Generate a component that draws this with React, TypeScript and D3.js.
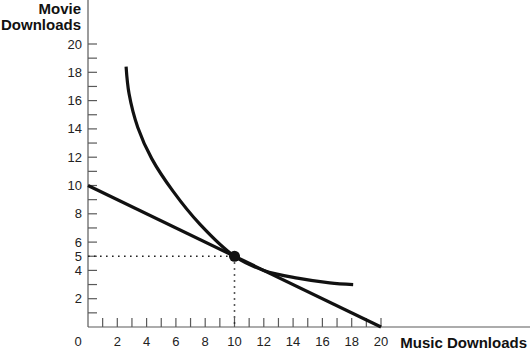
import * as d3 from 'd3';

// Axis values
const xTicks = d3.range(1, 21);
const xLabels = [0, 2, 4, 6, 8, 10, 12, 14, 16, 18, 20];
const yTicks = d3.range(1, 21);
const yLabels = [2, 4, 5, 6, 8, 10, 12, 14, 16, 18, 20];

// Budget line (music, movies)
const budgetLine: [number, number][] = [
  [0, 10],
  [20, 0],
];

// Indifference curve
const indifference: [number, number][] = [
  [2.6, 18.4],
  [2.8, 16.5],
  [3.4, 14.1],
  [4.35, 11.9],
  [5.8, 9.6],
  [7.65, 7.25],
  [10, 5],
  [12, 4.0],
  [14.3, 3.45],
  [16.5, 3.12],
  [18.1, 3.0],
];

const optimum: [number, number] = [10, 5];

const W = 530;
const H = 351;
const FONT = '"Liberation Sans", Arial, Helvetica, sans-serif';
const AXIS = '#5a5a5a';

export default function App() {
  const x = d3.scaleLinear().domain([0, 20]).range([88, 381]);
  const y = d3.scaleLinear().domain([0, 20]).range([327, 44]);

  const line = d3
    .line<[number, number]>()
    .x((d) => x(d[0]))
    .y((d) => y(d[1]));
  const curve = d3
    .line<[number, number]>()
    .x((d) => x(d[0]))
    .y((d) => y(d[1]))
    .curve(d3.curveCatmullRom.alpha(0.5));

  const x0 = x(0);
  const y0 = y(0);

  return (
    <svg
      width={W}
      height={H}
      style={{ position: 'absolute', left: 0, top: 0, background: '#fff' }}
      fontFamily={FONT}
    >
      {/* axes */}
      <line x1={x0} y1={0} x2={x0} y2={y0} stroke={AXIS} strokeWidth={1.2} />
      <line x1={x0} y1={y0} x2={W} y2={y0} stroke={AXIS} strokeWidth={1.2} />

      {/* y ticks point inward */}
      {yTicks.map((t) => (
        <line key={'yt' + t} x1={x0} x2={x0 + 9} y1={y(t)} y2={y(t)} stroke={AXIS} strokeWidth={1.2} />
      ))}
      {/* x ticks point up */}
      {xTicks.map((t) => (
        <line key={'xt' + t} x1={x(t)} x2={x(t)} y1={y0} y2={y0 - 9} stroke={AXIS} strokeWidth={1.2} />
      ))}

      {yLabels.map((t) => (
        <text key={'yl' + t} x={82} y={y(t)} dy="0.35em" textAnchor="end" fontSize={13} fill="#222">
          {t}
        </text>
      ))}
      {xLabels.map((t) => (
        <text
          key={'xl' + t}
          x={t === 0 ? x(t) - 10 : x(t)}
          y={346}
          textAnchor="middle"
          fontSize={13}
          fill="#222"
        >
          {t}
        </text>
      ))}

      {/* axis titles */}
      <text x={81} y={14} textAnchor="end" fontSize={15} fontWeight="bold" fill="#111">
        Movie
      </text>
      <text x={81} y={30} textAnchor="end" fontSize={15} fontWeight="bold" fill="#111">
        Downloads
      </text>
      <text x={527} y={348} textAnchor="end" fontSize={15} fontWeight="bold" fill="#111">
        Music Downloads
      </text>

      {/* dotted guides */}
      <line
        x1={x0}
        x2={x(optimum[0])}
        y1={y(optimum[1])}
        y2={y(optimum[1])}
        stroke="#222"
        strokeWidth={1.6}
        strokeDasharray="1.6,4.4"
      />
      <line
        x1={x(optimum[0])}
        x2={x(optimum[0])}
        y1={y(optimum[1])}
        y2={y0}
        stroke="#222"
        strokeWidth={1.6}
        strokeDasharray="1.6,4.4"
      />

      <path d={line(budgetLine) ?? ''} fill="none" stroke="#111" strokeWidth={3.2} />
      <path d={curve(indifference) ?? ''} fill="none" stroke="#111" strokeWidth={3.2} />
      <circle cx={x(optimum[0])} cy={y(optimum[1])} r={5.5} fill="#111" />
    </svg>
  );
}
